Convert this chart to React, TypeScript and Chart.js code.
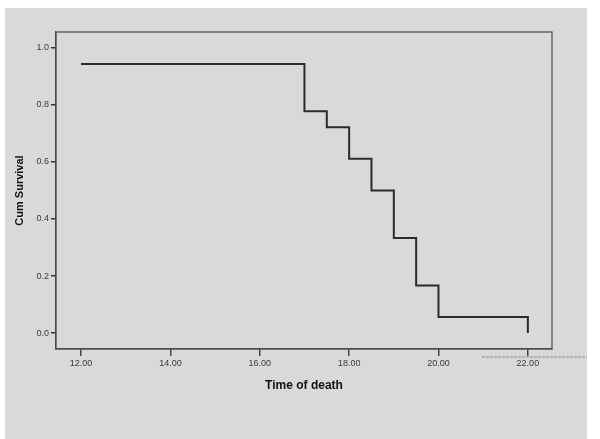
import React, { useEffect, useRef } from "react";
import { Chart, registerables } from "chart.js";
Chart.register(...registerables);

const times = [12, 17, 17.5, 18, 18.5, 19, 19.5, 20, 22, 22];
const survival = [0.944, 0.778, 0.722, 0.611, 0.5, 0.333, 0.167, 0.056, 0.056, 0];
const xTicks = [12, 14, 16, 18, 20, 22];
const yTicks = [0, 0.2, 0.4, 0.6, 0.8, 1.0];
const xTitle = "Time of death";
const yTitle = "Cum Survival";

const framePlugin = {
  id: "frame",
  afterDraw(chart: any) {
    const { ctx, chartArea: a, width } = chart;
    ctx.save();
    ctx.strokeStyle = "#4a4a4a";
    ctx.lineWidth = 1.2;
    ctx.strokeRect(a.left, a.top, a.right - a.left, a.bottom - a.top);
    // faint scan artifact line below the right end of the axis
    ctx.strokeStyle = "#8a8a8a";
    ctx.lineWidth = 1;
    ctx.setLineDash([3, 1]);
    ctx.beginPath();
    ctx.moveTo(a.right - 70, a.bottom + 8);
    ctx.lineTo(width, a.bottom + 8);
    ctx.stroke();
    ctx.restore();
  },
};

export default function App() {
  const ref = useRef<HTMLCanvasElement | null>(null);
  useEffect(() => {
    if (!ref.current) return;
    const chart = new Chart(ref.current, {
      type: "line",
      data: {
        datasets: [
          {
            data: times.map((t, i) => ({ x: t, y: survival[i] })),
            stepped: "before",
            borderColor: "#2b2b2b",
            borderWidth: 2,
            pointRadius: 0,
            fill: false,
          },
        ],
      },
      options: {
        responsive: false,
        animation: false,
        layout: { padding: { top: 24, right: 35, left: 0, bottom: 0 } },
        plugins: { legend: { display: false }, tooltip: { enabled: false } },
        scales: {
          x: {
            type: "linear",
            min: 11.44,
            max: 22.54,
            afterBuildTicks: (s: any) => {
              s.ticks = xTicks.map((v) => ({ value: v }));
            },
            afterFit: (s: any) => {
              s.height = 90;
            },
            ticks: {
              color: "#3a3a3a",
              font: { family: "Arial, Liberation Sans", size: 9 },
              padding: 2,
              maxRotation: 0,
              callback: (v: any) => Number(v).toFixed(2),
            },
            grid: { drawOnChartArea: false, drawTicks: true, tickLength: 7, color: "#444", lineWidth: 1.5 },
            border: { display: true, color: "#4a4a4a", width: 1.2 },
            title: {
              display: true,
              text: xTitle,
              color: "#111",
              font: { family: "Arial, Liberation Sans", size: 12, weight: "bold" },
              padding: { top: 4, bottom: 46 },
            },
          },
          y: {
            type: "linear",
            min: -0.056,
            max: 1.056,
            afterBuildTicks: (s: any) => {
              s.ticks = yTicks.map((v) => ({ value: v }));
            },
            afterFit: (s: any) => {
              s.width = 51;
            },
            ticks: {
              color: "#3a3a3a",
              font: { family: "Arial, Liberation Sans", size: 9 },
              padding: 2,
              callback: (v: any) => Number(v).toFixed(1),
            },
            grid: { drawOnChartArea: false, drawTicks: true, tickLength: 5, color: "#333", lineWidth: 1.5 },
            border: { display: true, color: "#4a4a4a", width: 1.2 },
            title: {
              display: true,
              text: yTitle,
              color: "#111",
              font: { family: "Arial, Liberation Sans", size: 11, weight: "bold" },
              padding: { top: 8, bottom: 0 },
            },
          },
        },
      },
      plugins: [framePlugin],
    } as any);
    return () => chart.destroy();
  }, []);
  return (
    <div
      style={{
        position: "absolute",
        left: 5,
        top: 8,
        width: 582,
        height: 431,
        background: "#d9d9d9",
      }}
    >
      <canvas ref={ref} width={582} height={431} style={{ display: "block" }} />
    </div>
  );
}
